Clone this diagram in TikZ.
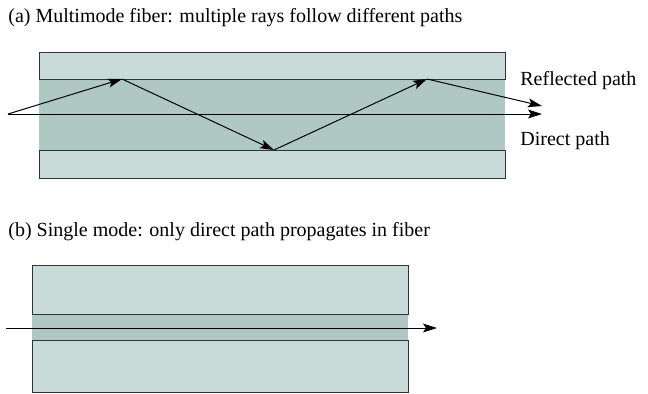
\documentclass[tikz,border=0pt]{standalone}
\usepackage{fontspec}
\setmainfont{Liberation Serif}
\usepackage{xcolor}
\usetikzlibrary{positioning, arrows.meta}

\definecolor{cladcol}{HTML}{C8DBD8}
\definecolor{corecol}{HTML}{AFC9C2}

\begin{document}
\begin{tikzpicture}[
    x=0.5pt,y=-0.5pt,
    clad/.style={draw=black!80, line width=0.65pt, rectangle, fill=cladcol, anchor=north west, inner sep=0pt, minimum width=233pt},
    core/.style={rectangle, fill=corecol, anchor=north west, inner sep=0pt, minimum width=233pt},
    ray/.style={line width=0.5pt, -{Stealth[length=7pt,width=4.4pt,inset=1.5pt]}},
    lbl/.style={font=\fontsize{10}{12}\selectfont, anchor=base west, inner sep=0pt}
]
    \useasboundingbox (0,0) rectangle (648,393);

    % (a) multimode fiber
    \node[lbl] (ttla) at (8,22) {(a) Multimode fiber: multiple rays follow different paths};
    \node[core, minimum height=35.5pt] (corea) at (39,79) {};
    \node[clad, minimum height=13.5pt] (topa) at (39,52) {};
    \node[clad, minimum height=14pt] (bota) at (39,150) {};
    \coordinate (ina) at (8,114);
    \coordinate (r1) at (122,79);
    \coordinate (r2) at (274,150);
    \coordinate (r3) at (427,79);
    \coordinate (outr) at (542,106);
    \coordinate (outd) at (542,114);
    \draw[ray] (ina) -- (r1);
    \draw[ray] (r1) -- (r2);
    \draw[ray] (r2) -- (r3);
    \draw[ray] (r3) -- (outr);
    \draw[ray] (ina) -- (outd);
    \node[lbl] (refl) at (520,85) {Reflected path};
    \node[lbl] (dir) at (520,145) {Direct path};

    % (b) single mode fiber
    \node[lbl] (ttlb) at (8,236) {(b) Single mode: only direct path propagates in fiber};
    \node[core, minimum width=188pt, minimum height=13pt] (coreb) at (32,314) {};
    \node[clad, minimum width=188pt, minimum height=24.5pt] (topb) at (32,265) {};
    \node[clad, minimum width=188pt, minimum height=26pt] (botb) at (32,340) {};
    \coordinate (inb) at (6,328);
    \coordinate (outb) at (437,328);
    \draw[ray] (inb) -- (outb);
\end{tikzpicture}
\end{document}
